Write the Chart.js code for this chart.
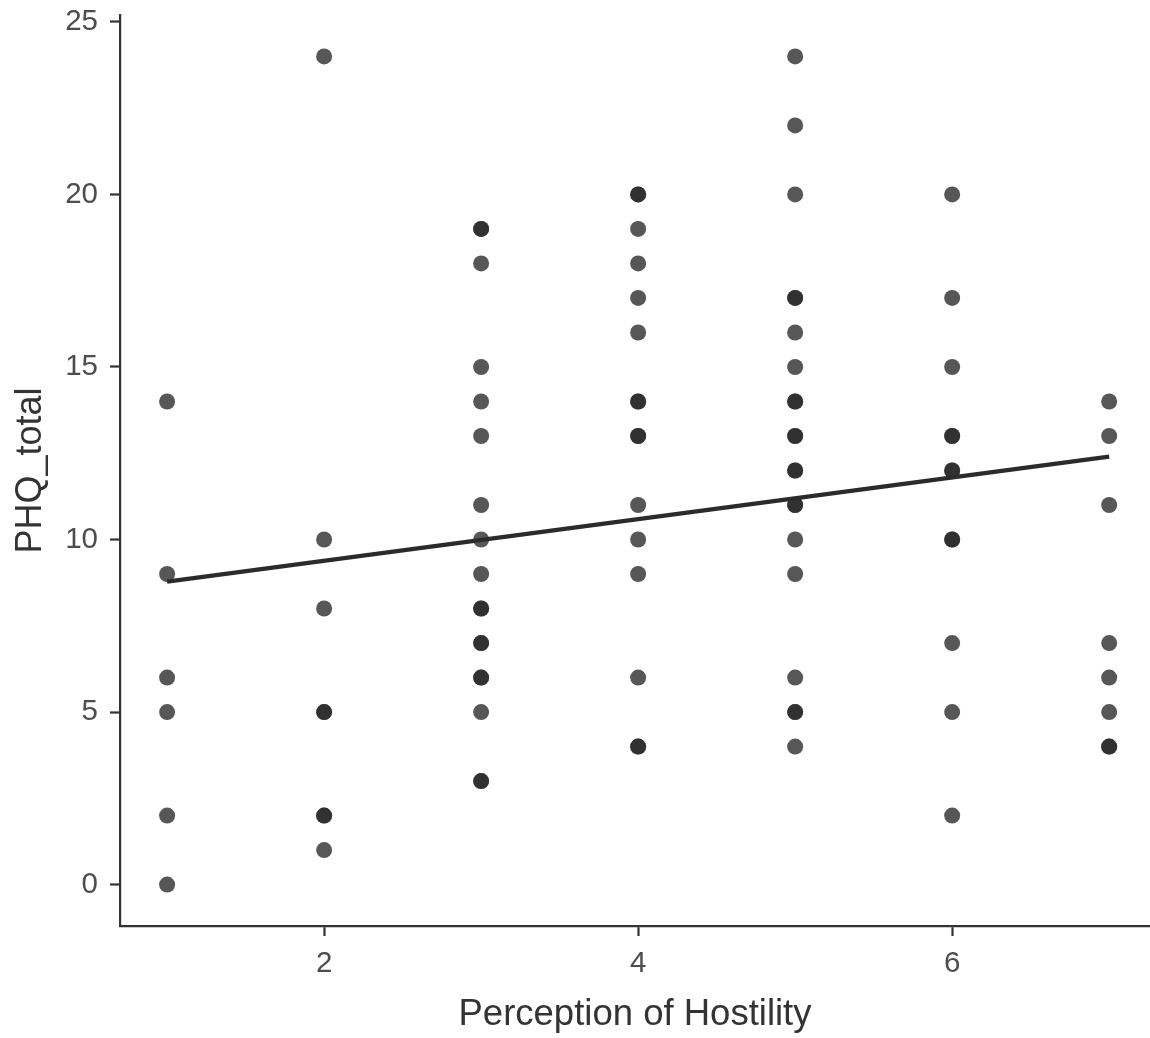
<!DOCTYPE html>
<html>
<head>
<meta charset="utf-8">
<script src="https://cdn.jsdelivr.net/npm/chart.js@4.4.0/dist/chart.umd.min.js"></script>
<style>
  html, body { margin: 0; padding: 0; background: #ffffff; overflow: hidden; }
  #wrap { width: 1150px; height: 1038px; position: relative; }
</style>
</head>
<body>
<div id="wrap"><canvas id="c" width="1150" height="1038"></canvas></div>
<script>
// Perception of Hostility categories and PHQ_total values observed at each
const hostility = [1, 2, 3, 4, 5, 6, 7];
const phqAt1 = [14, 9, 6, 5, 2, 0];
const phqAt2 = [24, 10, 8, 5, 5, 2, 2, 1];
const phqAt3 = [19, 19, 18, 15, 14, 13, 11, 10, 9, 8, 8, 7, 7, 6, 6, 5, 3, 3];
const phqAt4 = [20, 20, 19, 18, 17, 16, 14, 14, 13, 13, 11, 10, 9, 6, 4, 4];
const phqAt5 = [24, 22, 20, 17, 17, 16, 15, 14, 14, 13, 13, 12, 12, 11, 11, 10, 9, 6, 5, 5, 4];
const phqAt6 = [20, 17, 15, 13, 13, 12, 12, 10, 10, 7, 5, 2];
const phqAt7 = [14, 13, 11, 7, 6, 5, 4, 4];
const phqGroups = [phqAt1, phqAt2, phqAt3, phqAt4, phqAt5, phqAt6, phqAt7];

// Fitted regression line endpoints
const fitX = [1, 7];
const fitY = [8.78, 12.40];

// Tick labels
const xTicks = [2, 4, 6];
const yTicks = [0, 5, 10, 15, 20, 25];

const scatterData = [];
hostility.forEach((h, i) => {
  phqGroups[i].forEach(v => scatterData.push({ x: h, y: v }));
});
const lineData = fitX.map((x, i) => ({ x: x, y: fitY[i] }));

const FONT = "'Liberation Sans', Arial, Helvetica, sans-serif";

new Chart(document.getElementById('c'), {
  type: 'scatter',
  data: {
    datasets: [
      {
        type: 'line',
        data: lineData,
        borderColor: '#2b2b2b',
        borderWidth: 4.3,
        borderCapStyle: 'butt',
        pointRadius: 0,
        fill: false,
        tension: 0,
        order: 0
      },
      {
        type: 'scatter',
        data: scatterData,
        backgroundColor: 'rgba(40,40,40,0.78)',
        borderWidth: 0,
        pointRadius: 8,
        pointHoverRadius: 8,
        order: 1
      }
    ]
  },
  options: {
    responsive: false,
    animation: false,
    events: [],
    layout: { padding: 0, autoPadding: false },
    plugins: { legend: { display: false }, tooltip: { enabled: false } },
    scales: {
      x: {
        type: 'linear',
        min: 0.7,
        max: 7.26,
        afterBuildTicks: s => { s.ticks = xTicks.map(v => ({ value: v })); },
        afterFit: s => { s.height = 112; s.paddingLeft = 0; s.paddingRight = 0; },
        grid: { drawOnChartArea: false, drawTicks: true, tickLength: 10, tickWidth: 2.2, tickColor: '#333333' },
        border: { display: true, color: '#333333', width: 2.2 },
        ticks: { font: { family: FONT, size: 29.5, lineHeight: 1.0 }, color: '#4d4d4d', padding: 13, maxRotation: 0 },
        title: { display: true, text: 'Perception of Hostility', font: { family: FONT, size: 36.5, lineHeight: 1.2 }, color: '#333333', padding: { top: 0, bottom: 1 } }
      },
      y: {
        type: 'linear',
        min: -1.2,
        max: 25.2,
        afterBuildTicks: s => { s.ticks = yTicks.map(v => ({ value: v })); },
        afterFit: s => { s.width = 120; s.paddingTop = 15; s.paddingBottom = 0; },
        grid: { drawOnChartArea: false, drawTicks: true, tickLength: 10, tickWidth: 2.2, tickColor: '#333333' },
        border: { display: true, color: '#333333', width: 2.2 },
        ticks: { font: { family: FONT, size: 29.5, lineHeight: 1.0 }, color: '#4d4d4d', padding: 12 },
        title: { display: true, text: 'PHQ_total', font: { family: FONT, size: 36, lineHeight: 1.2 }, color: '#333333', padding: { top: 9, bottom: 0 } }
      }
    }
  }
});
</script>
</body>
</html>
